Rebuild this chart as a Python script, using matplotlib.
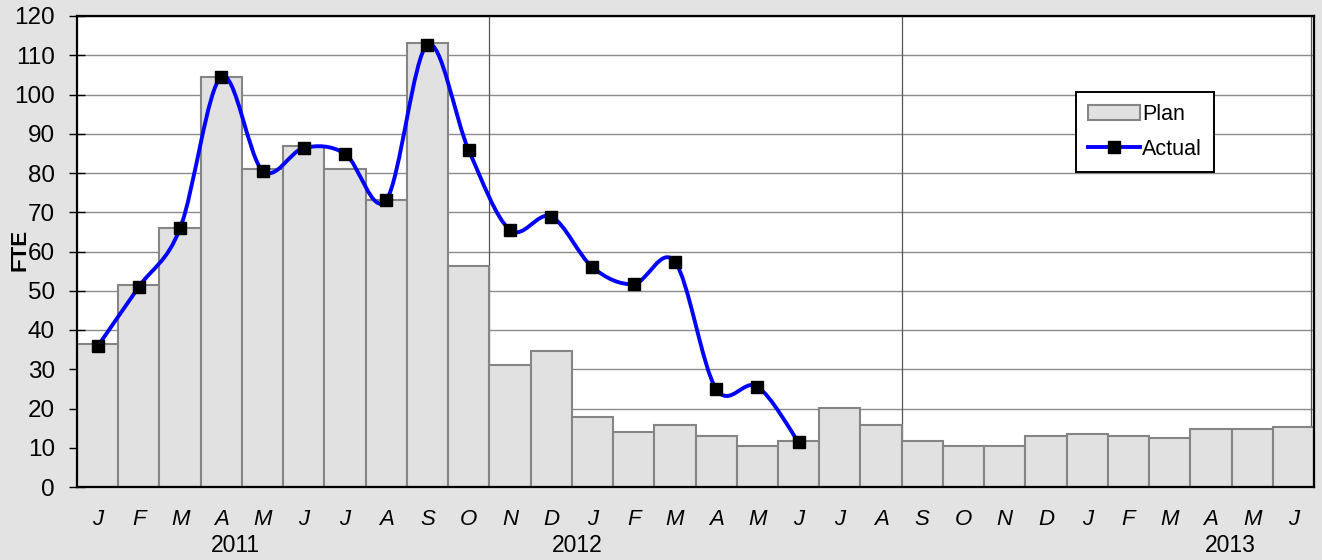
import numpy as np
import matplotlib
matplotlib.use("Agg")
import matplotlib.pyplot as plt
from matplotlib.path import Path
from matplotlib.patches import PathPatch
from matplotlib.lines import Line2D
from matplotlib.patches import Patch
import matplotlib.transforms as mtransforms

plt.rcParams['font.family'] = ['Liberation Sans', 'DejaVu Sans']

# months Jan 2011 .. Jun 2013
months = ["J", "F", "M", "A", "M", "J", "J", "A", "S", "O", "N", "D",
          "J", "F", "M", "A", "M", "J", "J", "A", "S", "O", "N", "D",
          "J", "F", "M", "A", "M", "J"]
plan = [36.4, 51.5, 66.0, 104.5, 81.0, 87.0, 81.0, 73.0, 113.0, 56.3,
        31.0, 34.6, 17.8, 14.1, 15.9, 12.9, 10.5, 11.7, 20.2, 15.9,
        11.7, 10.4, 10.4, 12.9, 13.4, 12.9, 12.4, 14.7, 14.7, 15.4]
actual = [35.8, 51.0, 65.9, 104.5, 80.6, 86.4, 84.9, 73.1, 112.7, 85.8,
          65.5, 68.9, 56.0, 51.7, 57.4, 25.0, 25.6, 11.4]
years = ["2011", "2012", "2013"]
year_pos = [3.35, 11.64, 27.48]
year_breaks = [9.5, 19.5, 29.42]

bg = "#e3e3e3"
fig = plt.figure(figsize=(13.22, 5.6), dpi=100, facecolor=bg)
ax = fig.add_axes([77 / 1322, 1 - 487 / 560, 1237 / 1322, 471 / 560])
ax.set_facecolor("white")

x = np.arange(len(plan))
ax.bar(x, plan, width=1.0, color="#e1e1e1", edgecolor="#858585", linewidth=1.5, zorder=2)

# smoothed line (Excel style bezier through the points)
xa = np.arange(len(actual), dtype=float)
ya = np.array(actual)
verts = [(xa[0], ya[0])]
codes = [Path.MOVETO]
n = len(xa)
for i in range(n - 1):
    p0 = np.array([xa[max(i - 1, 0)], ya[max(i - 1, 0)]])
    p1 = np.array([xa[i], ya[i]])
    p2 = np.array([xa[i + 1], ya[i + 1]])
    p3 = np.array([xa[min(i + 2, n - 1)], ya[min(i + 2, n - 1)]])
    c1 = p1 + (p2 - p0) / 6
    c2 = p2 - (p3 - p1) / 6
    verts += [tuple(c1), tuple(c2), tuple(p2)]
    codes += [Path.CURVE4] * 3
ax.add_patch(PathPatch(Path(verts, codes), facecolor="none", edgecolor="#0000ff",
                       linewidth=2.8, zorder=4, capstyle="round", joinstyle="round"))
ax.plot(xa, ya, linestyle="none", marker="s", markersize=9, color="black", zorder=5)

ax.set_xlim(-0.5, len(plan) - 0.5)
ax.set_ylim(0, 120)
ax.set_yticks(np.arange(0, 121, 10))
ax.yaxis.grid(True, color="#8c8c8c", linewidth=1.0, zorder=0)
ax.set_axisbelow(True)
for b in year_breaks:
    ax.axvline(b, color="#555555", linewidth=0.9, zorder=1)

ax.set_xticks(x)
ax.set_xticklabels(months, fontsize=16, style="italic")
ax.set_xticks(np.arange(-0.5, len(plan), 1), minor=True)
ax.tick_params(axis="x", which="major", length=0, pad=16)
ax.tick_params(axis="x", which="minor", direction="in", length=5.5, width=1.5, color="black")
ax.tick_params(axis="y", direction="inout", length=11.5, width=1, pad=10, labelsize=17.5)

for s in ax.spines.values():
    s.set_color("black")
    s.set_linewidth(1.6)
    s.set_zorder(6)

trans = mtransforms.blended_transform_factory(ax.transData, ax.transAxes)
for yl, xp in zip(years, year_pos):
    ax.text(xp, -0.125, yl, transform=trans, ha="center", va="center", fontsize=16.5)

fig.text(20 / 1322, 1 - 250 / 560, "FTE", rotation=90, fontsize=16, fontweight="bold",
         ha="center", va="center")

handles = [Patch(facecolor="#e1e1e1", edgecolor="#858585", linewidth=1.5),
           Line2D([], [], color="#0000ff", linewidth=2.8, marker="s", markersize=8.5, markerfacecolor="black",
                  markeredgecolor="black")]
leg = ax.legend(handles, ["Plan", "Actual"], loc="upper left", bbox_to_anchor=(0.808, 0.8386),
                fontsize=15.5, frameon=True, fancybox=False, edgecolor="black", framealpha=1,
                handlelength=2.4, handletextpad=0.1, borderpad=0.55, labelspacing=0.65, borderaxespad=0)
leg.get_frame().set_linewidth(1.4)
leg.set_zorder(7)

fig.savefig("out.png", dpi=100, facecolor=bg)
